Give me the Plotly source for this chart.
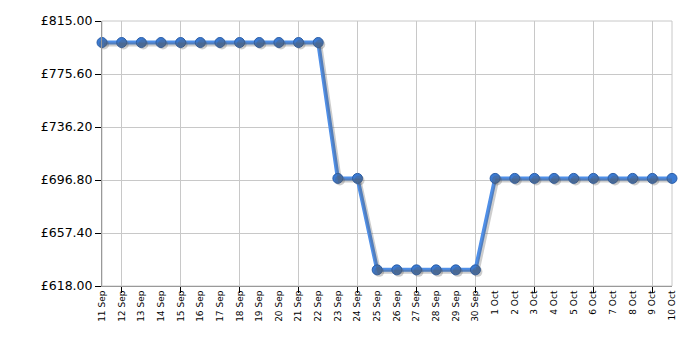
import plotly.graph_objects as go

dates = ["11 Sep", "12 Sep", "13 Sep", "14 Sep", "15 Sep", "16 Sep", "17 Sep", "18 Sep",
         "19 Sep", "20 Sep", "21 Sep", "22 Sep", "23 Sep", "24 Sep", "25 Sep", "26 Sep",
         "27 Sep", "28 Sep", "29 Sep", "30 Sep", "1 Oct", "2 Oct", "3 Oct", "4 Oct",
         "5 Oct", "6 Oct", "7 Oct", "8 Oct", "9 Oct", "10 Oct"]
prices = [799, 799, 799, 799, 799, 799, 799, 799, 799, 799, 799, 799,
          698, 698,
          630, 630, 630, 630, 630, 630,
          698, 698, 698, 698, 698, 698, 698, 698, 698, 698]
y_ticks = [618.00, 657.40, 696.80, 736.20, 775.60, 815.00]
y_min, y_max = 618.00, 815.00

idx = list(range(len(dates)))
grid_idx = idx[1::3]

W, H = 700, 350
ml, mr, mt, mb = 102, 28, 21, 64
pw = W - ml - mr
ph = H - mt - mb
x_span = len(dates) - 1
# shadow offset in pixels
sdx, sdy = 2.0, 2.0
dxv = sdx / pw * x_span
dyv = sdy / ph * (y_max - y_min)

fig = go.Figure()

# invisible trace holding the grid axis
fig.add_trace(go.Scatter(x=idx, y=prices, xaxis="x2", yaxis="y", mode="lines",
                         line=dict(width=0), hoverinfo="skip", showlegend=False))
# shadow
fig.add_trace(go.Scatter(x=idx, y=prices, xaxis="x3", yaxis="y3", mode="lines+markers",
                         line=dict(color="rgba(90,90,90,0.3)", width=4),
                         marker=dict(size=10, color="rgba(90,90,90,0.3)"),
                         cliponaxis=False, hoverinfo="skip", showlegend=False))
# main line
fig.add_trace(go.Scatter(x=idx, y=prices, mode="lines+markers",
                         line=dict(color="#4f8fe8", width=4),
                         marker=dict(size=10, color="#3b7ad2",
                                     line=dict(color="#2c5fa8", width=1)),
                         cliponaxis=False, showlegend=False))

fig.update_layout(
    width=W, height=H,
    margin=dict(l=ml, r=mr, t=mt, b=mb),
    paper_bgcolor="white", plot_bgcolor="white",
    font=dict(family="DejaVu Sans, Verdana, sans-serif", color="#000"),
    xaxis=dict(range=[0, x_span], tickmode="array", tickvals=idx, ticktext=dates,
               tickangle=-90, tickfont=dict(size=9), ticks="", showgrid=False,
               zeroline=False, showline=True, linecolor="#999", linewidth=1),
    xaxis2=dict(overlaying="x", range=[0, x_span], tickmode="array", tickvals=grid_idx,
                showticklabels=False, ticks="outside", ticklen=6, tickcolor="#000",
                showgrid=True, gridcolor="#c8c8c8", zeroline=False, showline=False,
                side="bottom", anchor="y"),
    xaxis3=dict(overlaying="x", range=[-dxv, x_span - dxv], visible=False, anchor="y3"),
    yaxis=dict(range=[y_min, y_max], tickmode="array", tickvals=y_ticks,
               ticktext=["£%.2f" % v for v in y_ticks], tickfont=dict(size=12.5),
               ticks="outside", ticklen=6, tickcolor="#000", showgrid=True,
               gridcolor="#c8c8c8", zeroline=False, showline=True, linecolor="#999",
               linewidth=1),
    yaxis3=dict(overlaying="y", range=[y_min + dyv, y_max + dyv], visible=False, anchor="x3"),
    shapes=[dict(type="rect", xref="paper", yref="paper", x0=0, x1=1, y0=0, y1=1,
                 line=dict(color="#c8c8c8", width=1), layer="below")],
)

fig.write_html("out.html")
